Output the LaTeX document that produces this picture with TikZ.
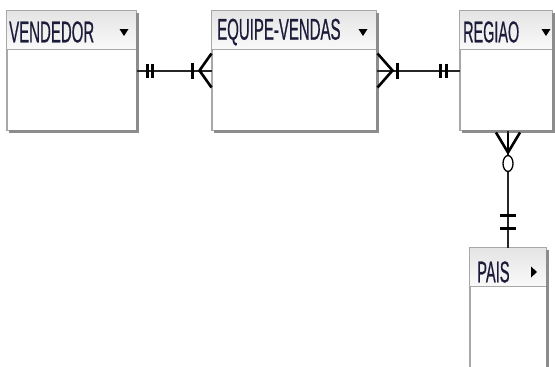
\documentclass[tikz,border=0pt]{standalone}
\usepackage{fontspec}
\usepackage{graphicx}
\setmainfont{Liberation Sans}
\newfontfamily\lblfont[FakeBold=0.8]{Liberation Sans}
\usetikzlibrary{calc}
\definecolor{boxgray}{HTML}{A8A8A8}
\definecolor{shadowgray}{HTML}{8C8C8C}
\definecolor{headtop}{HTML}{E4E4E4}
\definecolor{headbot}{HTML}{FAFAFA}
\definecolor{txt}{HTML}{1C1C3A}
\tikzset{
  ent/.style={draw=boxgray, line width=1pt, fill=white, inner sep=0pt},
  lbl/.style={anchor=west, inner sep=0pt, text=txt, font=\lblfont\fontsize{30}{30}\selectfont},
  rel/.style={line width=2pt, black!85},
  barline/.style={line width=3.2pt, black},
  foot/.style={line width=2.6pt, black},
  tri/.style={fill=black},
}
\newcommand\entityhead[1]{%
  \fill[top color=headtop, bottom color=headbot] (#1.north west) rectangle ($(#1.north east)+(0,39)$);
  \draw[boxgray, line width=1pt] ($(#1.north west)+(0,39)$) -- ($(#1.north east)+(0,39)$);
  \draw[boxgray, line width=1pt] (#1.north west) rectangle (#1.south east);
  \draw[shadowgray, line width=2.4pt] ($(#1.north east)+(1,2)$) -- ($(#1.south east)+(1,1)$) -- ($(#1.south west)+(2,1)$);
}
\begin{document}
\begin{tikzpicture}[x=1pt,y=-1pt]
\useasboundingbox (0,0) rectangle (555,367);
\fill[white] (0,0) rectangle (555,367);

% entities
\node[ent, minimum width=129pt, minimum height=119pt] (V) at (71.5,70.5) {};
\node[ent, minimum width=164pt, minimum height=119pt] (E) at (294,70.5) {};
\node[ent, minimum width=92pt, minimum height=119pt] (R) at (506,70.5) {};
\node[ent, minimum width=76pt, minimum height=119pt] (P) at (508,307.5) {};
\entityhead{V}
\entityhead{E}
\entityhead{R}
\entityhead{P}

\node[lbl] (Vt) at (9,32) {\scalebox{0.5}[1]{VENDEDOR}};
\node[lbl] (Et) at (217,32) {\scalebox{0.5}[1]{EQUIPE-VENDAS}};
\node[lbl] (Rt) at (463,32) {\scalebox{0.48}[1]{REGIAO}};
\node[lbl] (Pt) at (477,272) {\scalebox{0.49}[1]{PAIS}};

\fill[tri] (119.5,29) -- (128.5,29) -- (124,36) -- cycle;
\fill[tri] (358.5,29) -- (367.5,29) -- (363,36) -- cycle;
\fill[tri] (541.5,29) -- (550.5,29) -- (546,36) -- cycle;
\fill[tri] (531,266.5) -- (531,277.5) -- (537,272) -- cycle;

% VENDEDOR -- EQUIPE-VENDAS
\draw[rel] (V.east) -- (E.west);
\draw[barline] ($(V.east)+(11,-7)$) -- ($(V.east)+(11,7)$);
\draw[barline] ($(V.east)+(16,-7)$) -- ($(V.east)+(16,7)$);
\draw[barline] ($(E.west)+(-19,-8)$) -- ($(E.west)+(-19,8)$);
\draw[foot] ($(E.west)+(0,-17)$) -- ($(E.west)+(-12,0)$) -- ($(E.west)+(0,17)$);

% EQUIPE-VENDAS -- REGIAO
\draw[rel] (E.east) -- (R.west);
\draw[foot] ($(E.east)+(1,-17)$) -- ($(E.east)+(16,0)$) -- ($(E.east)+(1,17)$);
\draw[barline] ($(E.east)+(21,-8)$) -- ($(E.east)+(21,8)$);
\draw[barline] ($(R.west)+(-19,-7)$) -- ($(R.west)+(-19,7)$);
\draw[barline] ($(R.west)+(-13,-7)$) -- ($(R.west)+(-13,7)$);

% REGIAO -- PAIS
\coordinate (Rs) at (R.south -| P.north);
\draw[rel] (Rs) -- (P.north);
\draw[foot] ($(Rs)+(-12,2)$) -- ($(Rs)+(0,22)$) -- ($(Rs)+(12,2)$);
\draw[foot] ($(Rs)+(0,2)$) -- ($(Rs)+(0,22)$);
\draw[line width=1.3pt, black, fill=white] ($(Rs)+(0,33)$) ellipse [x radius=5, y radius=8];
\draw[barline] ($(P.north)+(-8,-32)$) -- ($(P.north)+(8,-32)$);
\draw[barline] ($(P.north)+(-8,-19)$) -- ($(P.north)+(8,-19)$);
\end{tikzpicture}
\end{document}
